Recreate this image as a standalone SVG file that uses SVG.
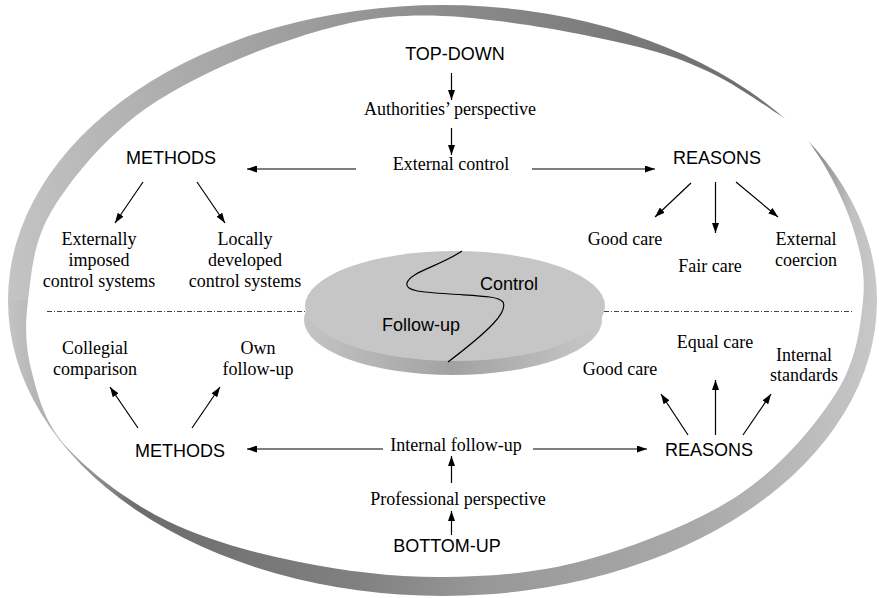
<svg xmlns="http://www.w3.org/2000/svg" width="879" height="598" viewBox="0 0 879 598">
<style>
.s{font-family:"Liberation Sans",Arial,sans-serif;font-size:18px;fill:#000;text-anchor:middle}
.r{font-family:"Liberation Serif","Times New Roman",serif;font-size:18px;fill:#000;text-anchor:middle}
.c{stroke:#000;stroke-width:1.2;fill:none;marker-end:url(#arr)}
.dd{stroke:#444;stroke-width:1;stroke-dasharray:5 2 1 2;fill:none}
</style>
<defs>
<marker id="arr" viewBox="0 0 10 7" refX="10" refY="3.5" markerWidth="10" markerHeight="7" markerUnits="userSpaceOnUse" orient="auto">
<path d="M0,0 L10,3.5 L0,7 z" fill="#000"/>
</marker>
<linearGradient id="ringTop" gradientUnits="userSpaceOnUse" x1="8" y1="0" x2="877" y2="0">
<stop offset="0" stop-color="#c4c4c4"/>
<stop offset="0.2" stop-color="#ababab"/>
<stop offset="0.5" stop-color="#8c8c8c"/>
<stop offset="0.85" stop-color="#6e6e6e"/>
<stop offset="0.93" stop-color="#8a8a8a"/>
<stop offset="0.97" stop-color="#c0c0c0"/>
<stop offset="1" stop-color="#c8c8c8"/>
</linearGradient>
<linearGradient id="ringBot" gradientUnits="userSpaceOnUse" x1="8" y1="0" x2="877" y2="0">
<stop offset="0" stop-color="#c4c4c4"/>
<stop offset="0.06" stop-color="#aaaaaa"/>
<stop offset="0.15" stop-color="#6c6c6c"/>
<stop offset="0.4" stop-color="#808080"/>
<stop offset="0.55" stop-color="#989898"/>
<stop offset="0.8" stop-color="#aaaaaa"/>
<stop offset="0.95" stop-color="#c0c0c0"/>
<stop offset="1" stop-color="#c8c8c8"/>
</linearGradient>
<linearGradient id="side" x1="0" y1="0" x2="1" y2="0">
<stop offset="0" stop-color="#c4c4c4"/>
<stop offset="0.5" stop-color="#a2a2a2"/>
<stop offset="1" stop-color="#c8c8c8"/>
</linearGradient>
<clipPath id="topHalf"><rect x="0" y="0" width="879" height="300"/></clipPath>
<clipPath id="botHalf"><rect x="0" y="300" width="879" height="298"/></clipPath>
</defs>
<rect width="879" height="598" fill="#fff"/>
<g id="ring-frame">
<ellipse cx="442.5" cy="300.5" rx="434.5" ry="295.5" fill="url(#ringTop)" clip-path="url(#topHalf)"/>
<ellipse cx="442.5" cy="300.5" rx="434.5" ry="295.5" fill="url(#ringBot)" clip-path="url(#botHalf)"/>
<path fill="#fff" d="M442.5,16 C502.4,18.4 601.5,36.2 656.9,52 C712.3,67.8 748.3,94 774.4,111.8 C801.7,128 804.3,134.65 817.3,154.1 C830.3,173.55 845.3,203.3 852.9,227.7 C860.5,252.1 865.85,272.85 863,300.5 C860.15,328.15 856.4,361.3 835.8,393.6 C815.2,425.9 781.15,466.8 739.6,494.5 C698.05,522.2 636,546.05 586.5,559.8 C537,573.55 490.6,576.7 442.5,577 C394.4,577.3 344,571.1 298,561.7 C252,552.3 205.2,539.8 166.7,520.8 C128.2,501.8 89.4,472.2 67,447.6 C44.6,423 38.6,397.8 32.1,373.3 C25.6,348.8 24.6,327.8 28,300.5 C31.4,273.2 32.95,241.4 52.7,209.3 C72.45,177.2 105.7,136.75 146.5,108.1 C187.3,79.45 248.2,52.75 297.5,37.4 C346.8,22.05 382.6,13.57 442.5,16 Z"/>
</g>
<g id="divider">
<line class="dd" x1="47" y1="311.5" x2="305" y2="311.5"/>
<line class="dd" x1="604" y1="311.5" x2="852" y2="311.5"/>
</g>
<g id="disk">
<ellipse cx="453" cy="320" rx="149" ry="55" fill="url(#side)"/>
<ellipse cx="455" cy="306" rx="150" ry="55" fill="#c6c6c6"/>
<path d="M462,251 C440,266 410,272 407,283 C405,291 420,292 450,294 C480,296 498,296 503,302 C508,312 490,330 448,362" fill="none" stroke="#000" stroke-width="1.2"/>
<text class="s" x="509" y="290">Control</text>
<text class="s" x="421" y="331">Follow-up</text>
</g>
<g id="top-down"><text class="s" x="455" y="60">TOP-DOWN</text></g>
<g id="authorities-perspective"><text class="r" x="450" y="115">Authorities’ perspective</text></g>
<g id="external-control"><text class="r" x="451" y="170">External control</text></g>
<g id="methods-top"><text class="s" x="171" y="164">METHODS</text></g>
<g id="reasons-top"><text class="s" x="717" y="164">REASONS</text></g>
<g id="externally-imposed"><text class="r" x="99" y="245">Externally<tspan x="99" dy="21">imposed</tspan><tspan x="99" dy="21">control systems</tspan></text></g>
<g id="locally-developed"><text class="r" x="245" y="245">Locally<tspan x="245" dy="21">developed</tspan><tspan x="245" dy="21">control systems</tspan></text></g>
<g id="good-care-top"><text class="r" x="625" y="245">Good care</text></g>
<g id="fair-care"><text class="r" x="710" y="272">Fair care</text></g>
<g id="external-coercion"><text class="r" x="806" y="245">External<tspan x="806" dy="21">coercion</tspan></text></g>
<g id="collegial-comparison"><text class="r" x="95" y="354">Collegial<tspan x="95" dy="21">comparison</tspan></text></g>
<g id="own-follow-up"><text class="r" x="258" y="354">Own<tspan x="258" dy="21">follow-up</tspan></text></g>
<g id="good-care-bottom"><text class="r" x="620" y="375">Good care</text></g>
<g id="equal-care"><text class="r" x="715" y="348">Equal care</text></g>
<g id="internal-standards"><text class="r" x="804" y="361">Internal<tspan x="804" dy="20">standards</tspan></text></g>
<g id="methods-bottom"><text class="s" x="180" y="457">METHODS</text></g>
<g id="reasons-bottom"><text class="s" x="709" y="456">REASONS</text></g>
<g id="internal-follow-up"><text class="r" x="456" y="451">Internal follow-up</text></g>
<g id="professional-perspective"><text class="r" x="458" y="505">Professional perspective</text></g>
<g id="bottom-up"><text class="s" x="447" y="552">BOTTOM-UP</text></g>
<g id="connectors">
<line class="c" x1="451.5" y1="73" x2="451.5" y2="100"/>
<line class="c" x1="451.5" y1="128" x2="451.5" y2="155"/>
<line class="c" x1="356" y1="169" x2="247" y2="169"/>
<line class="c" x1="532" y1="169" x2="655" y2="169"/>
<line class="c" x1="143" y1="182" x2="115" y2="223"/>
<line class="c" x1="197" y1="182" x2="225" y2="223"/>
<line class="c" x1="691" y1="183" x2="655" y2="217"/>
<line class="c" x1="715.5" y1="182" x2="715.5" y2="233"/>
<line class="c" x1="736" y1="182" x2="778" y2="217"/>
<line class="c" x1="451.5" y1="535" x2="451.5" y2="511"/>
<line class="c" x1="451.5" y1="483" x2="451.5" y2="456"/>
<line class="c" x1="383" y1="449" x2="247" y2="449"/>
<line class="c" x1="533" y1="449" x2="647" y2="449"/>
<line class="c" x1="138" y1="428" x2="110" y2="387"/>
<line class="c" x1="192" y1="428" x2="220" y2="387"/>
<line class="c" x1="688" y1="435" x2="661" y2="394"/>
<line class="c" x1="715.5" y1="435" x2="715.5" y2="380"/>
<line class="c" x1="743" y1="435" x2="771" y2="394"/>
</g>
</svg>
